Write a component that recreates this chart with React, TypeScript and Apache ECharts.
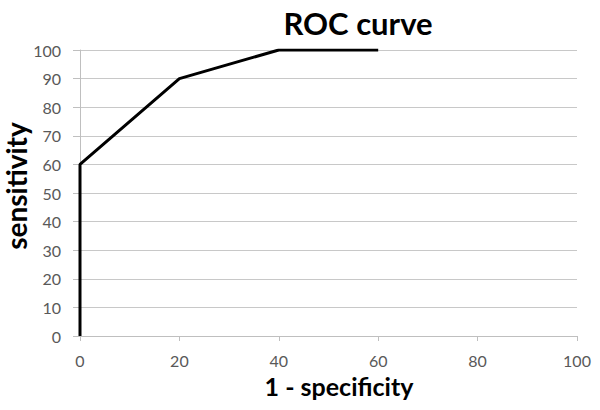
import React, { useEffect, useRef } from "react";
import * as echarts from "echarts";

const fpr = [0, 0, 20, 40, 60];
const tpr = [0, 60, 90, 100, 100];
const xTicks = [0, 20, 40, 60, 80, 100];
const yTicks = [0, 10, 20, 30, 40, 50, 60, 70, 80, 90, 100];
const titleText = "ROC curve";
const xName = "1 - specificity";
const yName = "sensitivity";

export default function App() {
  const ref = useRef<HTMLDivElement>(null);
  useEffect(() => {
    if (!ref.current) return;
    const chart = echarts.init(ref.current, null, { renderer: "svg" });
    const font = "Lato, 'Open Sans', sans-serif";
    chart.setOption({
      animation: false,
      backgroundColor: "#ffffff",
      title: {
        text: titleText,
        left: 353,
        top: 2,
        textAlign: "center",
        textStyle: { fontFamily: font, fontSize: 31, fontWeight: "bold", color: "#000" },
      },
      graphic: [
        {
          type: "text",
          x: 339,
          y: 386,
          style: {
            text: xName,
            fontFamily: font,
            fontSize: 25,
            fontWeight: "bold",
            fill: "#000",
            align: "center",
            verticalAlign: "middle",
          },
        },
        {
          type: "text",
          x: 16,
          y: 186,
          rotation: Math.PI / 2,
          style: {
            text: yName,
            fontFamily: font,
            fontSize: 28,
            fontWeight: "bold",
            fill: "#000",
            align: "center",
            verticalAlign: "middle",
          },
        },
      ],
      grid: { left: 80, right: 23, top: 50, bottom: 74 },
      xAxis: {
        type: "value",
        min: xTicks[0],
        max: xTicks[xTicks.length - 1],
        interval: 20,
        axisLine: { show: true, lineStyle: { color: "#bfbfbf", width: 1 } },
        axisTick: { show: true, length: 5, lineStyle: { color: "#bfbfbf" } },
        axisLabel: { fontFamily: font, fontSize: 16, color: "#595959", margin: 16 },
        splitLine: { show: false },
      },
      yAxis: {
        type: "value",
        min: yTicks[0],
        max: yTicks[yTicks.length - 1],
        interval: 10,
        axisLine: { show: true, lineStyle: { color: "#bfbfbf", width: 1 } },
        axisTick: { show: true, length: 7, lineStyle: { color: "#bfbfbf" } },
        axisLabel: { fontFamily: font, fontSize: 16, color: "#595959", margin: 19 },
        splitLine: { show: true, lineStyle: { color: "#c8c8c8", width: 1 } },
      },
      series: [
        {
          type: "line",
          data: fpr.map((x, i) => [x, tpr[i]]),
          showSymbol: false,
          lineStyle: { color: "#000", width: 3 },
          z: 5,
        },
      ],
    });
    return () => chart.dispose();
  }, []);
  return <div ref={ref} style={{ width: 600, height: 410, position: "absolute", left: 0, top: 0 }} />;
}
